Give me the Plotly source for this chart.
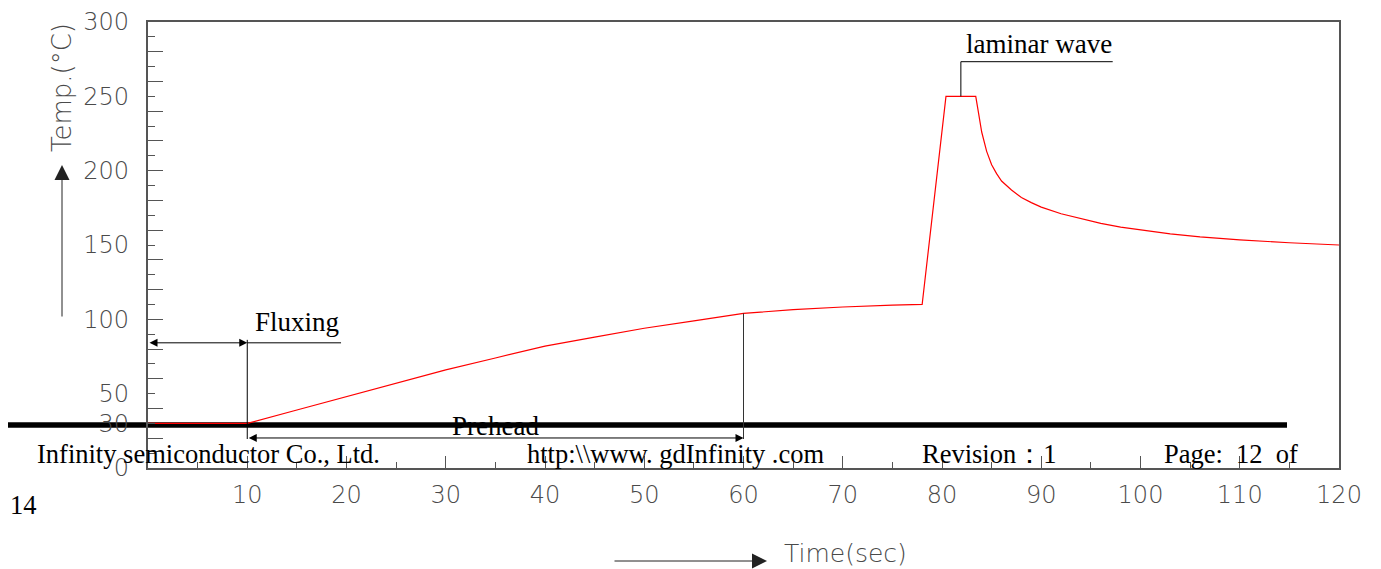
import plotly.graph_objects as go

# Soldering temperature profile
time_s = [0, 10, 15, 20, 25, 30, 35, 40, 45, 50, 55, 60, 65, 70, 75, 78,
          80.4, 83.4, 83.7, 84, 84.5, 85, 85.5, 86, 87, 88, 89, 90, 92, 94, 96, 98,
          100, 103, 106, 110, 115, 120]
temp_c = [30, 30, 39, 48, 57, 66, 74, 82, 88, 94, 99, 104, 106.5, 108.3, 109.5, 110,
          250, 250, 238, 226, 213, 204, 198, 193, 187, 182, 178.5, 175.5, 171, 167.5,
          164.5, 162, 160, 157.5, 155.5, 153.5, 151.5, 150]

y_label_vals = [0, 30, 50, 100, 150, 200, 250, 300]
x_label_vals = [10, 20, 30, 40, 50, 60, 70, 80, 90, 100, 110, 120]

# annotation geometry (data units)
flux_start, flux_end, flux_y, flux_ext = 0, 10, 84.2, 19.45
pre_end, pre_y, pre_bottom = 60, 20.2, 19.5
pre_top = 104
wave_x, wave_top, wave_end = 81.9, 273.3, 97.2

footer_texts = ["Infinity semiconductor Co., Ltd.", r"http:\\www. gdInfinity .com",
                "Revision：1", "Page:  12  of"]
footer_x_px = [35, 525, 920, 1162]

# the page body has an 8px margin: compensate so the plot lands where the reference has it
OFF = 8
W, H = 1381 - OFF, 569 - OFF
PL, PR, PT, PB = 148, 1339, 22, 468          # plot area in window pixels
L, T = PL - OFF, PT - OFF
R = W - (PR - OFF)
B = H - (PB - OFF)
pw, ph = PR - PL, PB - PT

def px(xp):
    return (xp - PL) / pw

def py(yp):
    return (PB - yp) / ph

cad_font = dict(family="DejaVu Sans", size=24, color="#4a4a4a", weight=200)
ytitle_font = dict(family="DejaVu Sans", size=26, color="#4a4a4a", weight=200)
xtitle_font = dict(family="DejaVu Sans", size=25, color="#4a4a4a", weight=200)
serif = dict(family="Liberation Serif", size=27, color="black")
serif_f = dict(family="Liberation Serif", size=26.5, color="black")

fig = go.Figure()
fig.add_trace(go.Scatter(x=time_s, y=temp_c, mode="lines",
                         line=dict(color="#ff0000", width=1.2), showlegend=False,
                         cliponaxis=False))
# invisible trace to carry the labelled secondary y axis
fig.add_trace(go.Scatter(x=[0], y=[0], yaxis="y2", mode="markers",
                         marker=dict(opacity=0), showlegend=False, hoverinfo="skip"))

fig.update_layout(
    width=W, height=H,
    margin=dict(l=L, r=R, t=T, b=B, autoexpand=False),
    paper_bgcolor="white", plot_bgcolor="white",
    xaxis=dict(range=[0, 120], showgrid=False, zeroline=False,
               showline=True, mirror=True, linecolor="#555555", linewidth=1.5,
               ticks="inside", tickvals=x_label_vals, ticklen=12, tickcolor="#555555",
               ticklabelstandoff=4,
               tickfont=cad_font,
               minor=dict(dtick=5, ticks="inside", ticklen=6, tickcolor="#555555")),
    yaxis=dict(range=[0, 300], showgrid=False, zeroline=False,
               showline=True, mirror=True, linecolor="#555555", linewidth=1.5,
               ticks="inside", tick0=0, dtick=20, ticklen=15, tickcolor="#555555",
               showticklabels=False,
               minor=dict(tick0=10, dtick=20, ticks="inside", ticklen=7, tickcolor="#555555")),
    yaxis2=dict(range=[0, 300], overlaying="y", side="left", showgrid=False,
                zeroline=False, showline=False, ticks="", tickvals=y_label_vals,
                ticklabelstandoff=18, tickfont=cad_font),
)

shapes = []
line_k = dict(color="black", width=1)
# Fluxing extension line and verticals
shapes.append(dict(type="line", xref="x", yref="y", x0=flux_end, x1=flux_ext,
                   y0=flux_y, y1=flux_y, line=line_k))
shapes.append(dict(type="line", xref="x", yref="y", x0=flux_end, x1=flux_end,
                   y0=flux_y + 2, y1=pre_bottom, line=line_k))
shapes.append(dict(type="line", xref="x", yref="y", x0=pre_end, x1=pre_end,
                   y0=pre_top, y1=pre_bottom, line=dict(color="#333333", width=1)))
# laminar wave leader
shapes.append(dict(type="line", xref="x", yref="y", x0=wave_x, x1=wave_x,
                   y0=250, y1=wave_top, line=line_k))
shapes.append(dict(type="line", xref="x", yref="y", x0=wave_x, x1=wave_end,
                   y0=wave_top, y1=wave_top, line=line_k))
# thick footer line
shapes.append(dict(type="line", xref="paper", yref="paper", x0=px(7), x1=px(1287),
                   y0=py(425), y1=py(425), line=dict(color="black", width=5.5),
                   layer="below"))
fig.update_layout(shapes=shapes)

ann = []
# double arrows
ann.append(dict(x=flux_end, y=flux_y, ax=flux_start, ay=flux_y, xref="x", yref="y",
                axref="x", ayref="y", text="", showarrow=True, arrowside="end+start",
                arrowhead=2, arrowsize=1.6, arrowwidth=1, arrowcolor="black"))
ann.append(dict(x=pre_end, y=pre_y, ax=flux_end, ay=pre_y, xref="x", yref="y",
                axref="x", ayref="y", text="", showarrow=True, arrowside="end+start",
                arrowhead=2, arrowsize=1.6, arrowwidth=1, arrowcolor="black"))
# labels
ann.append(dict(x=10.6, y=98.4, xref="x", yref="y", text="Fluxing", showarrow=False,
                xanchor="left", yanchor="middle", font=serif))
ann.append(dict(x=35.0, y=28.3, xref="x", yref="y", text="Prehead", showarrow=False,
                xanchor="center", yanchor="middle", font=serif))
ann.append(dict(x=82.2, y=285, xref="x", yref="y", text="laminar wave", showarrow=False,
                xanchor="left", yanchor="middle", font=serif))
# axis titles with arrows
ann.append(dict(x=px(62), y=py(88), xref="paper", yref="paper", text="Temp.(°C)",
                textangle=-90, showarrow=False, xanchor="center", yanchor="middle",
                font=ytitle_font))
ann.append(dict(x=px(62), y=py(165), xref="paper", yref="paper", text="", showarrow=True,
                ax=0, ay=153, arrowhead=2, arrowsize=3, arrowwidth=1, arrowcolor="#222222"))
ann.append(dict(x=px(845), y=py(553), xref="paper", yref="paper", text="Time(sec)",
                showarrow=False, xanchor="center", yanchor="middle", font=xtitle_font))
ann.append(dict(x=px(767), y=py(561), xref="paper", yref="paper", text="", showarrow=True,
                ax=-154, ay=0, arrowhead=2, arrowsize=3, arrowwidth=1, arrowcolor="#222222"))
# footer overlay
for t, xp in zip(footer_texts, footer_x_px):
    ann.append(dict(x=px(xp), y=py(454), xref="paper", yref="paper", text=t,
                    showarrow=False, xanchor="left", yanchor="middle", font=serif_f))
ann.append(dict(x=px(8), y=py(505), xref="paper", yref="paper", text="14",
                showarrow=False, xanchor="left", yanchor="middle", font=serif_f))
fig.update_layout(annotations=ann)

fig.write_html("out.html")
